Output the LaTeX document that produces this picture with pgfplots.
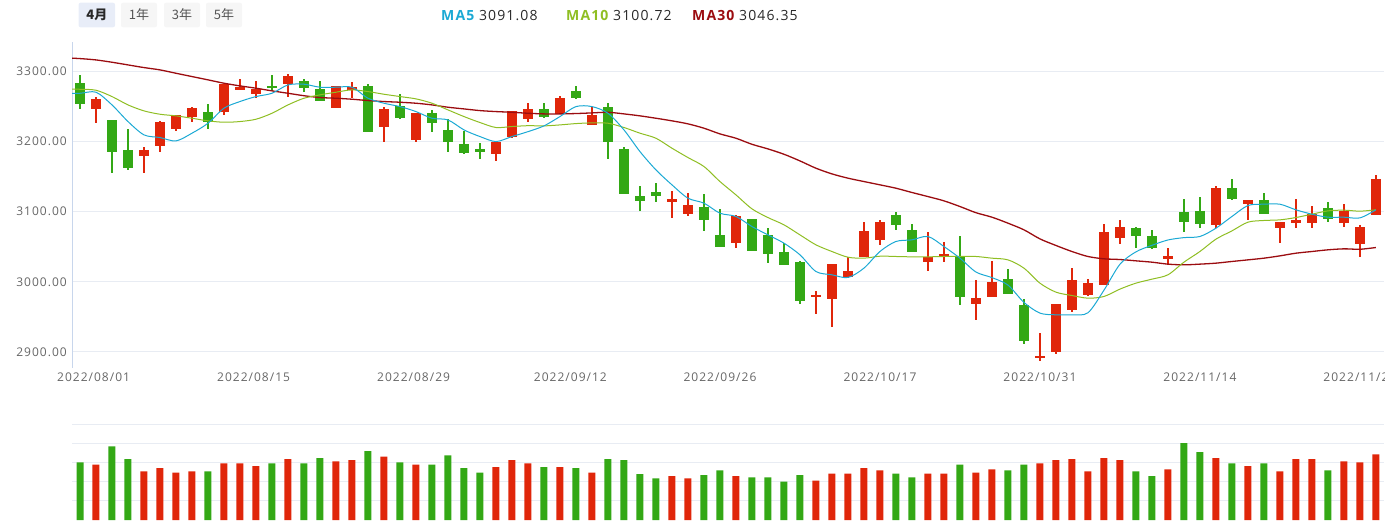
\documentclass[border=0pt]{standalone}
\usepackage{fontspec}
\usepackage{pgfplots}
\usepackage{pgfplotstable}
\pgfplotsset{compat=1.18}
\setmainfont{Open Sans}
\newfontfamily\axisfont[LetterSpace=8.5]{Open Sans}
\newfontfamily\headfont[LetterSpace=8]{Open Sans}
\newfontfamily\cjk{Noto Sans CJK SC}
\definecolor{cred}{RGB}{224,38,10}
\definecolor{cgreen}{RGB}{51,168,21}
\definecolor{ma5c}{RGB}{27,169,212}
\definecolor{ma10c}{RGB}{143,190,35}
\definecolor{ma30c}{RGB}{155,12,16}
\definecolor{gridc}{RGB}{232,236,243}
\definecolor{axisc}{RGB}{200,214,236}
\definecolor{labc}{RGB}{102,102,102}
\definecolor{dark}{RGB}{40,40,40}
\definecolor{btntext}{RGB}{85,85,85}
\definecolor{btnsel}{RGB}{232,237,248}
\definecolor{btn}{RGB}{246,246,246}

\pgfplotstableread{
x o c h l
1 3246.4 3260.7 3264.0 3226.0
4 3179.0 3188.5 3191.8 3155.7
5 3194.2 3227.9 3229.8 3185.6
6 3218.4 3237.4 3237.4 3215.1
7 3235.0 3247.8 3248.8 3228.4
9 3242.6 3281.6 3281.6 3237.9
10 3274.0 3278.3 3288.7 3274.0
11 3267.8 3275.4 3286.8 3262.6
13 3281.6 3293.4 3296.3 3264.0
16 3247.8 3278.7 3278.7 3247.8
17 3273.0 3277.3 3285.4 3261.6
19 3221.3 3245.9 3249.3 3199.9
21 3201.8 3240.7 3240.7 3199.9
26 3182.3 3199.9 3199.9 3172.3
27 3207.0 3244.0 3244.0 3204.6
28 3231.7 3245.9 3254.5 3228.4
30 3239.3 3262.1 3265.4 3239.3
32 3223.6 3237.4 3249.7 3223.6
37 3114.4 3118.2 3129.6 3091.6
38 3097.3 3109.7 3126.3 3093.5
41 3056.0 3093.5 3095.0 3048.9
46 2978.2 2981.0 2987.2 2954.4
47 2975.8 3026.1 3026.1 2935.0
48 3007.1 3016.1 3035.1 3005.2
49 3034.7 3072.2 3085.5 3034.7
50 3059.8 3085.0 3087.4 3052.7
53 3028.5 3035.6 3070.7 3015.7
54 3036.1 3039.9 3056.5 3028.0
56 2968.2 2976.7 3001.9 2944.9
57 2977.7 3000.0 3029.9 2977.7
60 2891.3 2894.1 2926.4 2886.5
61 2899.3 2969.1 2969.1 2897.0
62 2959.6 3002.4 3019.5 2956.8
63 2981.5 2998.1 3004.7 2979.1
64 2995.7 3070.3 3081.7 2995.7
65 3063.1 3078.3 3088.8 3054.6
68 3032.3 3036.1 3048.0 3024.2
71 3081.2 3134.4 3136.7 3076.0
73 3110.2 3116.3 3116.3 3087.4
75 3077.4 3085.0 3085.0 3056.0
76 3084.5 3088.8 3118.2 3077.4
77 3084.5 3096.4 3108.3 3076.4
79 3084.5 3101.1 3111.6 3078.8
80 3054.6 3078.3 3080.7 3035.1
81 3095.4 3146.2 3152.4 3095.4
}\redc

\pgfplotstableread{
x o c h l
0 3283.0 3253.1 3294.9 3246.4
2 3231.2 3185.6 3231.2 3155.7
3 3188.5 3162.9 3218.4 3159.1
8 3242.1 3228.4 3253.5 3218.4
12 3279.2 3276.3 3294.9 3272.5
14 3286.8 3275.9 3288.7 3271.1
15 3275.4 3257.3 3286.8 3257.3
18 3278.7 3213.2 3281.6 3213.2
20 3250.7 3234.1 3267.3 3232.2
22 3240.7 3226.5 3244.5 3213.2
23 3216.0 3199.9 3232.2 3185.6
24 3196.6 3183.3 3215.1 3181.8
25 3189.9 3185.6 3198.5 3174.7
29 3245.9 3235.0 3254.5 3234.1
31 3272.1 3262.6 3279.2 3260.2
33 3248.8 3198.9 3254.5 3175.2
34 3189.9 3125.3 3192.3 3125.3
35 3123.0 3115.4 3136.3 3101.6
36 3128.2 3122.0 3141.0 3114.4
39 3106.4 3087.4 3124.9 3072.6
40 3067.4 3049.4 3103.5 3049.4
42 3090.2 3044.6 3090.2 3044.6
43 3066.9 3039.9 3076.4 3026.6
44 3042.7 3023.3 3055.1 3023.3
45 3028.0 2972.0 3029.9 2969.1
51 3095.0 3081.2 3100.2 3074.1
52 3073.6 3043.2 3082.1 3043.2
55 3034.7 2977.7 3065.5 2966.8
58 3004.7 2982.9 3018.0 2982.9
59 2967.2 2916.0 2975.3 2911.2
66 3076.9 3064.6 3078.3 3048.0
67 3065.5 3048.9 3073.6 3046.5
69 3100.2 3085.9 3117.7 3070.7
70 3101.6 3082.6 3121.5 3076.0
72 3134.4 3118.2 3146.2 3116.3
74 3116.3 3097.3 3126.3 3097.3
78 3104.9 3089.3 3114.0 3085.9
}\greenc

\pgfplotstableread{
x m5 m10 m30
-1 3268.7 3274.4 3319.3
0 3268.7 3274.4 3318.1
1 3270.2 3273.0 3316.2
2 3252.1 3264.0 3312.9
3 3228.4 3252.1 3309.1
4 3209.4 3243.6 3305.3
5 3205.6 3238.8 3302.0
6 3200.8 3236.5 3297.2
7 3211.8 3233.1 3292.5
8 3226.0 3229.4 3287.8
9 3247.4 3227.4 3283.0
10 3256.9 3228.4 3279.2
11 3264.0 3231.7 3275.9
12 3268.7 3240.2 3272.1
13 3280.6 3252.1 3268.7
14 3281.6 3261.6 3265.2
15 3277.3 3266.4 3262.6
16 3277.3 3270.2 3261.6
17 3277.3 3273.5 3260.2
18 3261.6 3271.1 3258.3
19 3254.5 3267.3 3256.9
20 3249.7 3264.0 3255.9
21 3242.6 3260.7 3254.5
22 3233.1 3254.5 3252.1
23 3230.7 3245.0 3248.8
24 3216.5 3235.5 3246.4
25 3207.0 3227.0 3244.0
26 3199.9 3219.9 3242.6
27 3207.0 3221.3 3241.6
28 3214.0 3222.5 3240.2
29 3222.2 3222.2 3239.3
30 3235.5 3223.6 3239.3
31 3249.7 3225.5 3239.8
32 3249.7 3226.5 3240.7
33 3240.2 3226.0 3241.6
34 3216.5 3219.9 3239.3
35 3185.6 3211.8 3236.5
36 3159.5 3204.6 3233.1
37 3138.2 3190.4 3229.4
38 3119.2 3177.1 3225.1
39 3112.1 3164.3 3218.9
40 3097.8 3142.9 3210.8
41 3093.1 3123.9 3204.6
42 3078.8 3104.0 3196.0
43 3066.9 3091.6 3189.4
44 3055.1 3081.2 3181.8
45 3038.5 3066.9 3172.3
46 3014.7 3052.7 3161.9
47 3010.0 3043.2 3153.8
48 3006.2 3035.1 3147.7
49 3019.5 3033.7 3142.9
50 3043.2 3036.5 3138.2
51 3057.5 3036.1 3133.4
52 3059.8 3035.6 3127.3
53 3064.6 3035.6 3121.5
54 3050.3 3036.1 3115.4
55 3033.7 3036.1 3107.3
56 3014.0 3036.1 3098.5
57 3006.0 3033.7 3092.1
58 2995.4 3031.3 3083.6
59 2970.7 3019.5 3074.1
60 2955.4 2998.1 3061.2
61 2953.0 2985.3 3051.8
62 2953.0 2980.5 3043.2
63 2955.9 2976.7 3036.1
64 2988.0 2979.1 3032.8
65 3025.0 2989.6 3031.8
66 3042.7 2998.1 3029.9
67 3052.0 3003.8 3028.0
68 3059.6 3010.0 3025.2
69 3063.0 3028.0 3024.2
70 3064.6 3043.2 3025.2
71 3076.4 3060.8 3026.6
72 3093.1 3072.6 3029.0
73 3108.7 3085.0 3031.3
74 3110.6 3087.4 3033.7
75 3110.6 3088.3 3037.0
76 3102.6 3091.6 3040.8
77 3096.4 3096.4 3043.2
78 3092.1 3101.1 3045.6
79 3092.1 3102.1 3047.0
80 3091.1 3100.7 3046.4
81 3102.6 3102.6 3048.9
}\matab

\pgfplotstableread{
x v
1 55.3
4 48.7
5 52.0
6 47.3
7 48.7
9 56.7
10 56.7
11 54.0
13 61.0
16 58.7
17 60.0
19 63.3
21 55.3
26 53.0
27 60.0
28 56.7
30 53.0
32 47.3
37 44.0
38 41.7
41 44.0
46 39.3
47 46.3
48 46.3
49 52.0
50 49.7
53 46.3
54 46.3
56 47.3
57 50.7
60 56.7
61 60.0
62 61.0
63 48.7
64 62.0
65 60.0
68 50.7
71 62.0
73 54.0
75 48.7
76 61.0
77 61.0
79 58.7
80 57.7
81 65.7
}\redv

\pgfplotstableread{
x v
0 57.7
2 73.7
3 61.0
8 48.7
12 56.7
14 56.7
15 62.0
18 69.0
20 57.7
22 55.3
23 64.7
24 52.0
25 47.3
29 53.0
31 52.0
33 61.0
34 60.0
35 46.0
36 41.7
39 45.0
40 49.7
42 42.7
43 42.7
44 38.3
45 45.0
51 46.3
52 42.7
55 55.3
58 49.7
59 55.3
66 48.7
67 44.0
69 77.0
70 68.0
72 56.7
74 56.7
78 49.7
}\greenv

\begin{document}
\begin{tikzpicture}
\useasboundingbox (0pt,0pt) rectangle (1385pt,520pt);

% range buttons
\fill[btnsel, rounded corners=2pt] (78.6pt,492.7pt) rectangle (115pt,517.3pt);
\fill[btn, rounded corners=2pt] (121pt,492.7pt) rectangle (157pt,517.3pt);
\fill[btn, rounded corners=2pt] (164pt,492.7pt) rectangle (200pt,517.3pt);
\fill[btn, rounded corners=2pt] (206pt,492.7pt) rectangle (242pt,517.3pt);
\node[font=\cjk\bfseries\fontsize{13}{15}\selectfont, text=dark] at (96.8pt,505pt) {4月};
\node[font=\cjk\fontsize{13}{15}\selectfont, text=btntext] at (139pt,505pt) {1年};
\node[font=\cjk\fontsize{13}{15}\selectfont, text=btntext] at (182pt,505pt) {3年};
\node[font=\cjk\fontsize{13}{15}\selectfont, text=btntext] at (224pt,505pt) {5年};

% MA legend
\node[anchor=west, inner sep=0pt, font=\headfont\fontsize{14}{16}\selectfont, text=dark] at (441pt,504.5pt) {{\bfseries\color{ma5c}MA5} 3091.08};
\node[anchor=west, inner sep=0pt, font=\headfont\fontsize{14}{16}\selectfont, text=dark] at (566pt,504.5pt) {{\bfseries\color{ma10c}MA10} 3100.72};
\node[anchor=west, inner sep=0pt, font=\headfont\fontsize{14}{16}\selectfont, text=dark] at (692pt,504.5pt) {{\bfseries\color{ma30c}MA30} 3046.35};

% price panel
\begin{axis}[
  at={(72pt,152pt)}, anchor=south west,
  scale only axis, width=1312pt, height=326pt,
  xmin=-0.5, xmax=81.5, ymin=2877.2, ymax=3341.75,
  axis x line*=bottom, axis y line*=left,
  x axis line style={draw=none},
  y axis line style={draw=axisc, line width=1pt, -},
  ytick={2900,3000,3100,3200,3300},
  yticklabels={2900.00,3000.00,3100.00,3200.00,3300.00},
  xtick={0.85,10.85,20.85,30.65,40,50,60,70,80},
  xticklabels={2022/08/01,2022/08/15,2022/08/29,2022/09/12,2022/09/26,2022/10/17,2022/10/31,2022/11/14,2022/11/28},
  major tick length=0pt,
  ymajorgrids, grid style={gridc, line width=1pt},
  ticklabel style={font=\axisfont\fontsize{12}{14}\selectfont, text=labc},
  yticklabel style={anchor=east, inner sep=0pt, xshift=-5pt},
  xticklabel style={anchor=north, inner sep=0pt, yshift=-4.5pt},
]
% wicks
\addplot[draw=none, mark=none, forget plot,
  error bars/.cd, y dir=both, y explicit, error mark=none,
  error bar style={draw=cred, line width=1.3pt}]
  table[x=x, y expr={(\thisrow{h}+\thisrow{l})/2}, y error expr={(\thisrow{h}-\thisrow{l})/2}] \redc;
\addplot[draw=none, mark=none, forget plot,
  error bars/.cd, y dir=both, y explicit, error mark=none,
  error bar style={draw=cgreen, line width=1.3pt}]
  table[x=x, y expr={(\thisrow{h}+\thisrow{l})/2}, y error expr={(\thisrow{h}-\thisrow{l})/2}] \greenc;
% bodies
\addplot[draw=none, mark=none, forget plot,
  error bars/.cd, y dir=both, y explicit, error mark=none,
  error bar style={draw=cred, line width=10.5pt}]
  table[x=x, y expr={(\thisrow{o}+\thisrow{c})/2}, y error expr={max(abs(\thisrow{c}-\thisrow{o})/2,0.8)}] \redc;
\addplot[draw=none, mark=none, forget plot,
  error bars/.cd, y dir=both, y explicit, error mark=none,
  error bar style={draw=cgreen, line width=10.5pt}]
  table[x=x, y expr={(\thisrow{o}+\thisrow{c})/2}, y error expr={max(abs(\thisrow{c}-\thisrow{o})/2,0.8)}] \greenc;
% moving averages
\addplot[ma30c, line width=1.3pt, smooth, mark=none] table[x=x, y=m30] \matab;
\addplot[ma10c, line width=1pt, smooth, mark=none] table[x=x, y=m10] \matab;
\addplot[ma5c, line width=1pt, smooth, mark=none] table[x=x, y=m5] \matab;
\end{axis}

% volume panel
\begin{axis}[
  at={(72pt,0pt)}, anchor=south west,
  scale only axis, width=1312pt, height=100pt,
  xmin=-0.5, xmax=81.5, ymin=0, ymax=100,
  axis line style={draw=none},
  xtick=\empty, ytick={20,38.9,57.8,76.7,95.6}, yticklabels={},
  major tick length=0pt,
  ymajorgrids, grid style={gridc, line width=1pt},
  ybar, bar width=7pt,
]
\addplot[fill=cred, draw=none, bar shift=0pt] table[x=x, y=v] \redv;
\addplot[fill=cgreen, draw=none, bar shift=0pt] table[x=x, y=v] \greenv;
\end{axis}
\end{tikzpicture}
\end{document}
